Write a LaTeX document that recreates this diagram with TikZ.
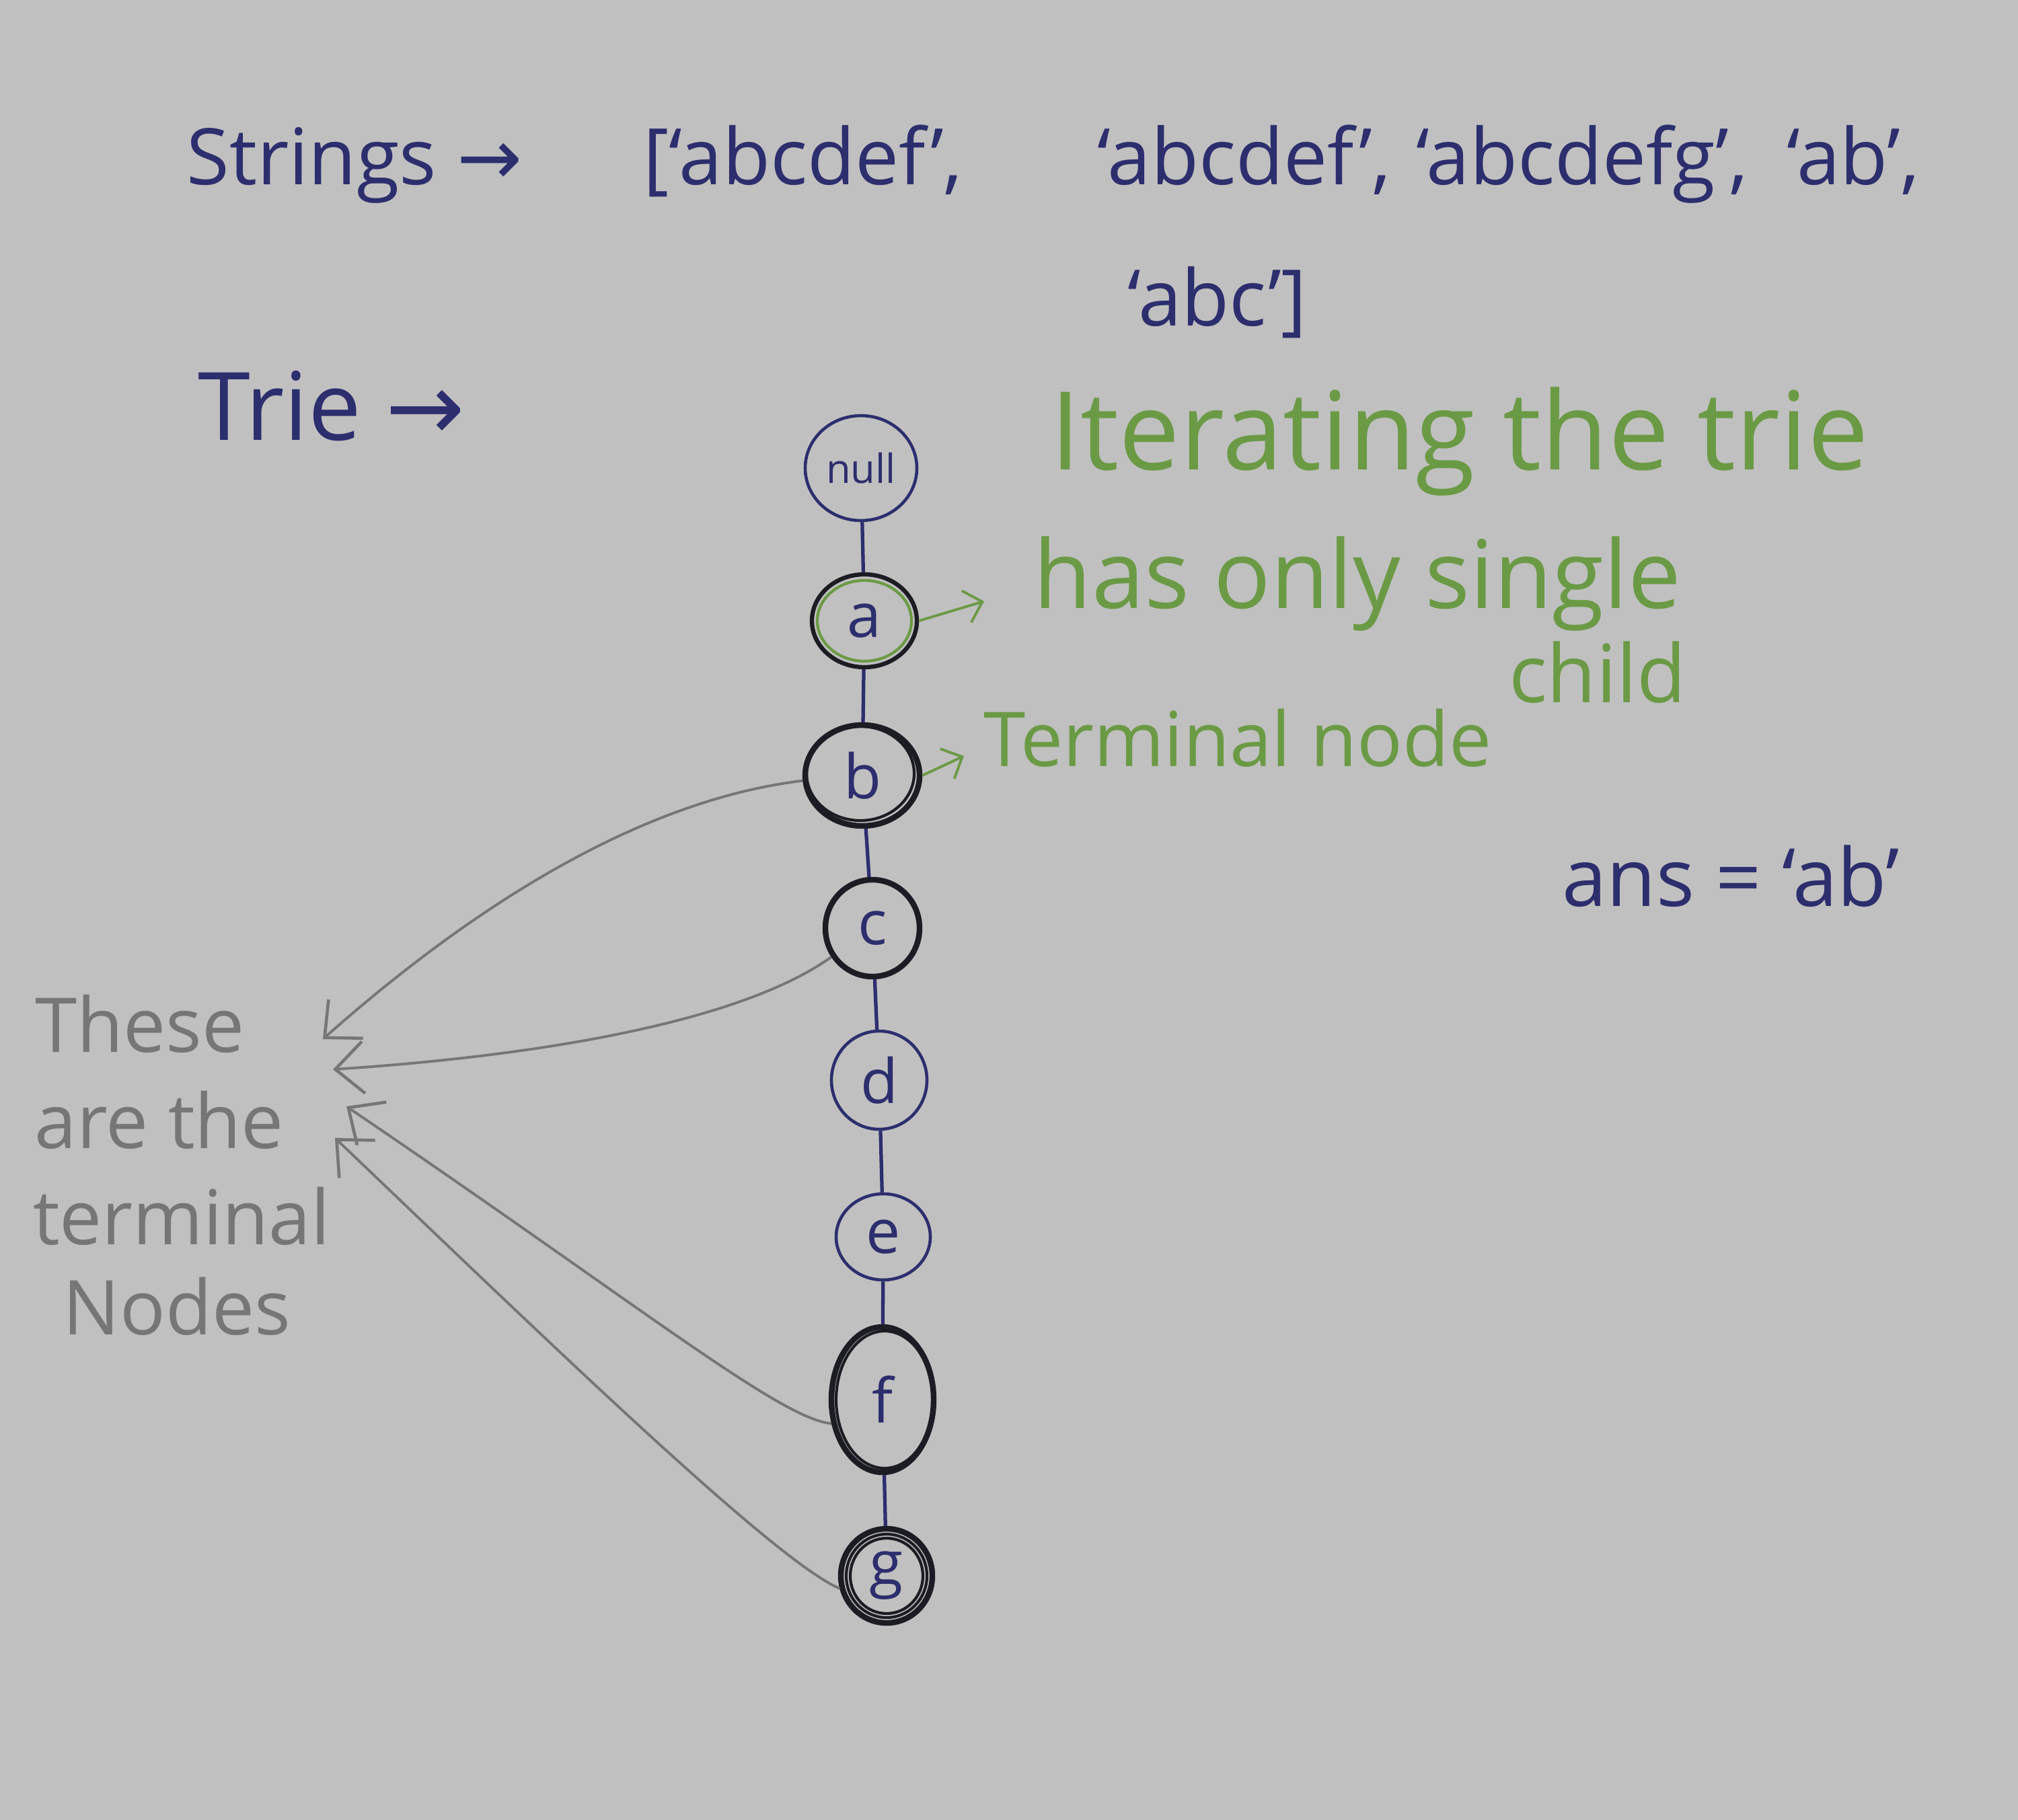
\documentclass[tikz,border=0pt]{standalone}
\usepackage{fontspec}
\setmainfont{Open Sans}
\newfontfamily\arrowfont{DejaVu Sans}
\usetikzlibrary{shapes.geometric,arrows.meta}
\definecolor{bg}{HTML}{C0C0C0}
\definecolor{ink}{HTML}{2C2E6E}
\definecolor{grn}{HTML}{6B9A45}
\definecolor{pen}{HTML}{767676}
\definecolor{blk}{HTML}{1C1C24}
\begin{document}
\begin{tikzpicture}[x=1cm,y=1cm,
  tnode/.style={ellipse, inner sep=0pt, font=\fontsize{26}{30}\selectfont, text=ink},
  thinnode/.style={tnode, draw=ink, line width=1.3pt},
  boldnode/.style={tnode, draw=blk, line width=2.4pt},
  edge/.style={draw=ink, line width=1.5pt},
  ring/.style={draw=blk, line width=1.2pt},
  pointer/.style={draw=pen, line width=1.1pt, -{Straight Barb[length=12pt,width=22pt,line width=1.3pt]}},
  gpointer/.style={draw=grn, line width=1.1pt, -{Straight Barb[length=7pt,width=14pt,line width=1.1pt]}},
  strtext/.style={text=ink, font=\fontsize{33}{38}\selectfont, anchor=base, inner sep=0pt},
  gnote/.style={text=grn, anchor=base, inner sep=0pt},
  pnote/.style={text=pen, font=\fontsize{32}{38}\selectfont, anchor=base, inner sep=0pt}
]
\fill[bg] (0,0) rectangle (30,-27.06);
\useasboundingbox (0,0) rectangle (30,-27.06);

% strings list
\node[strtext] (s1) at (5.27,-2.75) {Strings {\arrowfont →}};
\node[strtext] (s2) at (11.94,-2.75) {[‘abcdef’,};
\node[strtext] (s3) at (18.50,-2.75) {‘abcdef’,};
\node[strtext] (s4) at (23.52,-2.75) {‘abcdefg’,};
\node[strtext] (s5) at (27.55,-2.75) {‘ab’,};
\node[strtext] (s6) at (18.10,-4.85) {‘abc’]};

\node[strtext, font=\fontsize{40}{46}\selectfont] (trie) at (4.93,-6.55) {Trie {\arrowfont →}};

% trie nodes
\node[thinnode, minimum width=1.66cm, minimum height=1.56cm, font=\fontsize{17}{20}\selectfont] (n0) at (12.80,-6.96) {null};
\node[boldnode, line width=1.8pt, minimum width=1.56cm, minimum height=1.38cm] (na) at (12.85,-9.23) {a};
\node[boldnode, minimum width=1.70cm, minimum height=1.50cm] (nb) at (12.82,-11.53) {b};
\node[boldnode, minimum width=1.40cm, minimum height=1.44cm] (nc) at (12.97,-13.80) {c};
\node[thinnode, minimum width=1.42cm, minimum height=1.46cm] (nd) at (13.07,-16.06) {d};
\node[thinnode, minimum width=1.40cm, minimum height=1.28cm] (ne) at (13.13,-18.39) {e};
\node[boldnode, minimum width=1.52cm, minimum height=2.16cm] (nf) at (13.12,-20.81) {f};
\node[boldnode, minimum width=1.36cm, minimum height=1.40cm] (ng) at (13.18,-23.43) {g};

% extra pen strokes on the circles
\draw[grn, line width=1.2pt] (na.center) ellipse [x radius=0.70, y radius=0.60];
\draw[ring] ([xshift=-0.03cm,yshift=0.03cm]nb.center) ellipse [x radius=0.80, y radius=0.70];
\draw[ring] ([xshift=0.03cm]nf.center) ellipse [x radius=0.72, y radius=1.02];
\draw[ring] (ng.center) ellipse [x radius=0.60, y radius=0.62];
\draw[ring] (ng.center) ellipse [x radius=0.54, y radius=0.56];

% trie edges
\draw[edge] (n0) -- (na);
\draw[edge] (na) -- (nb);
\draw[edge] (nb) -- (nc);
\draw[edge] (nc) -- (nd);
\draw[edge] (nd) -- (ne);
\draw[edge] (ne) -- (nf);
\draw[edge] (nf) -- (ng);

% green notes
\node[gnote, font=\fontsize{46}{52}\selectfont] (iter) at (21.70,-6.99) {Iterating the trie};
\node[gnote, font=\fontsize{40}{46}\selectfont] (single) at (20.18,-9.05) {has only single};
\node[gnote, font=\fontsize{34}{40}\selectfont] (child) at (23.75,-10.45) {child};
\node[gnote, font=\fontsize{32}{38}\selectfont] (term) at (18.40,-11.40) {Terminal node};
\coordinate (ga) at (14.63,-8.94);
\coordinate (gb) at (14.33,-11.24);
\draw[gpointer] (na.east) -- (ga);
\draw[gpointer] (nb.east) -- (gb);

% answer
\node[strtext, font=\fontsize{34}{40}\selectfont] (ans) at (25.73,-13.47) {ans = ‘ab’};

% pencil notes
\node[pnote] (l1) at (2.08,-15.64) {These};
\node[pnote] (l2) at (2.37,-17.07) {are the};
\node[pnote] (l3) at (2.70,-18.50) {terminal};
\node[pnote] (l4) at (2.63,-19.84) {Nodes};

\coordinate (p1) at (4.80,-15.45);
\coordinate (p2) at (4.95,-15.90);
\coordinate (p3) at (5.15,-16.45);
\coordinate (p4) at (4.98,-16.92);
\draw[pointer] (nb.185) .. controls (9.5,-11.9) and (7,-13.5) .. (p1);
\draw[pointer] (nc.215) .. controls (11.0,-15.2) and (8,-15.7) .. (p2);
\draw[pointer] (nf.205) .. controls (11.6,-21.1) and (9.5,-19.4) .. (p3);
\draw[pointer] (ng.195) .. controls (11.5,-23.2) and (8,-19.8) .. (p4);
\end{tikzpicture}
\end{document}
